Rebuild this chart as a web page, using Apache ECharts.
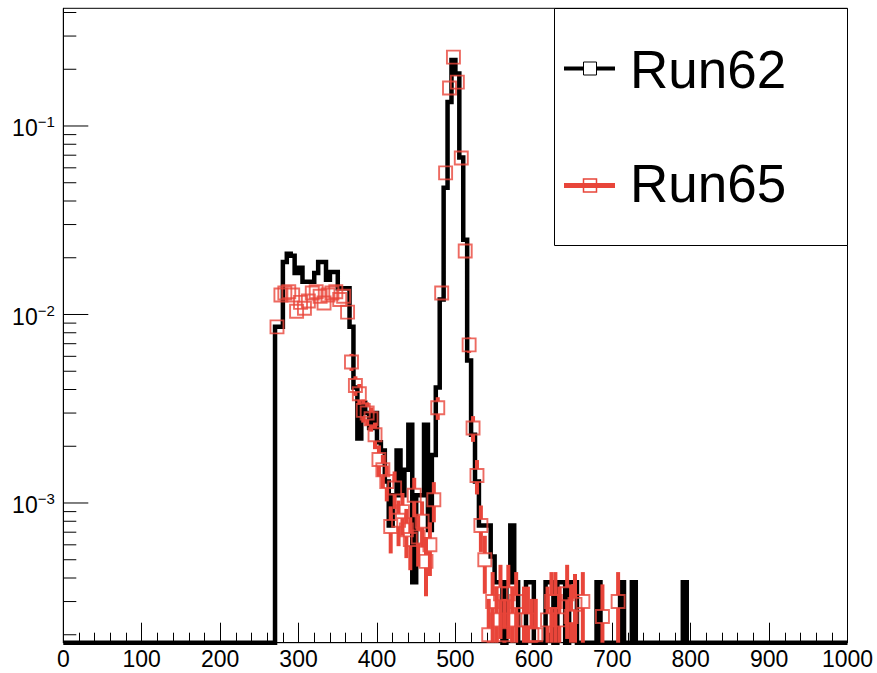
<!DOCTYPE html>
<html><head><meta charset="utf-8">
<script src="https://cdn.jsdelivr.net/npm/echarts@6/dist/echarts.min.js"></script>
<style>html,body{margin:0;padding:0;background:#fff}#c{width:877px;height:673px}</style>
</head><body><div id="c"></div>
<script>
// ---- data (bins of width 5 starting at 270; all other bins are empty) ----
const binLow = 270;
const binWidth = 5;
const xMin = 0, xMax = 1000, xInterval = 100;
const yMin = 1.815e-4, yMax = 0.4211;
const seriesNames = ['Run62', 'Run65'];

const run62 = [
  0.0086, 0.0086, 0.019, 0.021, 0.0205, 0.0166, 0.0177, 0.0149, 0.0149, 0.0149,
  0.0166, 0.019, 0.019, 0.0153, 0.0168, 0.0168, 0.0138, 0.0138, 0.0138, 0.0086,
  0.0041, 0.0022, 0.0034, 0.0030, 0.0025, 0.0030, 0.0021, 0.0019, 0.0013, 0.00076,
  0.0011, 0.0019, 0.0011, 0.0015, 0.0026, 0.00038, 0.0011, 0.0011, 0.0026, 0.00072,
  0.0018, 0.0041, 0.012, 0.047, 0.134, 0.224, 0.19, 0.068, 0.0249, 0.0057,
  0.0023, 0.0013, 0.00076, 0.00076, 0.00076, 0.00052, 0.00038, 0.00038, 0, 0.00038,
  0.00076, 0.00038, 0, 0, 0.00038, 0.00038, 0, 0, 0, 0.00038,
  0.00038, 0, 0.00038, 0.00038, 0, 0.00038, 0.00038, 0, 0, 0,
  0, 0, 0.00038, 0, 0, 0, 0, 0, 0.00038, 0,
  0, 0.00038, 0, 0, 0, 0, 0, 0, 0, 0,
  0, 0, 0, 0, 0.00038, 0
];

const run65 = [
  0.0086, 0.0127, 0.013, 0.0132, 0.0127, 0.0104, 0.0116, 0.0108, 0.0118, 0.013,
  0.0132, 0.0125, 0.0115, 0.0127, 0.013, 0.0132, 0.012, 0.0125, 0.0103, 0.0056,
  0.0042, 0.0038, 0.0031, 0.0030, 0.0028, 0.0023, 0.0017, 0.0015, 0.0013, 0.00075,
  0.0012, 0.00081, 0.0009, 0.00072, 0.00064, 0.0011, 0.00066, 0.0008, 0.00049, 0.0006,
  0.00104, 0.0032, 0.013, 0.0564, 0.159, 0.232, 0.171, 0.0677, 0.0217, 0.0069,
  0.0025, 0.0014, 0.00076, 0.0005, 0.0002, 0.0003, 0.00024, 0.00033, 0.0002, 0.00033,
  0.00024, 0.0003, 0, 0.00024, 0.00024, 0.0002, 0.0002, 0, 0, 0.00024,
  0.0003, 0.0003, 0.00024, 0, 0.00033, 0.00025, 0.00029, 0, 0.0003, 0,
  0, 0, 0, 0.00025, 0, 0, 0, 0.0003, 0, 0,
  0, 0, 0, 0, 0, 0, 0, 0, 0, 0,
  0, 0, 0, 0, 0, 0
];

const run65Err = [
  0.00072, 0.00087, 0.00088, 0.00089, 0.00087, 0.00079, 0.00083, 0.0008, 0.00084, 0.00088,
  0.00089, 0.00087, 0.00083, 0.00087, 0.00088, 0.00089, 0.00085, 0.00087, 0.00079, 0.00058,
  0.0005, 0.00048, 0.00043, 0.00042, 0.00041, 0.00037, 0.00032, 0.0003, 0.00028, 0.00021,
  0.00027, 0.00022, 0.00023, 0.00021, 0.0002, 0.00026, 0.0002, 0.00022, 0.00017, 0.00019,
  0.00025, 0.00044, 0.00088, 0.0018, 0.0031, 0.0037, 0.0032, 0.002, 0.0011, 0.00064,
  0.00039, 0.00029, 0.00021, 0.00017, 0.00011, 0.00013, 0.00012, 0.00014, 0.00011, 0.00014,
  0.00012, 0.00013, 0, 0.00012, 0.00012, 0.00011, 0.00011, 0, 0, 0.00012,
  0.00013, 0.00013, 0.00012, 0, 0.00014, 0.00012, 0.00013, 0, 0.00013, 0,
  0, 0, 0, 0.00012, 0, 0, 0, 0.00013, 0, 0,
  0, 0, 0, 0, 0, 0, 0, 0, 0, 0,
  0, 0, 0, 0, 0, 0
];

const yMajorTicks = [1e-3, 1e-2, 1e-1];
const yMinorTicks = [2e-4, 3e-4, 4e-4, 5e-4, 6e-4, 7e-4, 8e-4, 9e-4,
  2e-3, 3e-3, 4e-3, 5e-3, 6e-3, 7e-3, 8e-3, 9e-3,
  2e-2, 3e-2, 4e-2, 5e-2, 6e-2, 7e-2, 8e-2, 9e-2,
  2e-1, 3e-1, 4e-1];

// ---- styles ----
const RED = '#e8453a';
const FONT = '"Liberation Sans", Arial, Helvetica, sans-serif';

// ---- build series data ----
const stepData = [[xMin, yMin]];
run62.forEach((v, i) => {
  stepData.push([binLow + i * binWidth, v > yMin ? v : yMin]);
});
stepData.push([binLow + run62.length * binWidth, yMin]);
stepData.push([xMax, yMin]);

const redPts = [];
const redErr = [];
run65.forEach((v, i) => {
  const xc = binLow + (i + 0.5) * binWidth;
  if (v >= yMin) {
    redPts.push([xc, v]);
    redErr.push([xc, v, run65Err[i]]);
  }
});

const tickData = yMajorTicks.map(v => [xMin, v, 1]).concat(yMinorTicks.map(v => [xMin, v, 0]));

const chart = echarts.init(document.getElementById('c'), null, {renderer: 'svg'});
const MARK = 13;

chart.setOption({
  animation: false,
  backgroundColor: '#fff',
  textStyle: {fontFamily: FONT},
  grid: {left: 63.3, right: 29.5, top: 8.3, bottom: 30.3, show: true, borderColor: '#000', borderWidth: 1, backgroundColor: 'transparent'},
  xAxis: {
    type: 'value', min: xMin, max: xMax, interval: xInterval,
    axisLine: {show: true, lineStyle: {color: '#000', width: 1}},
    axisTick: {show: true, inside: true, length: 20, lineStyle: {color: '#000', width: 1}},
    minorTick: {show: true, splitNumber: 5, length: 10, lineStyle: {color: '#000', width: 1}},
    splitLine: {show: false},
    axisLabel: {color: '#000', fontSize: 23, margin: 5, fontFamily: FONT, formatter: v => String(v)}
  },
  yAxis: {
    type: 'log', logBase: 10, min: yMin, max: yMax,
    axisLine: {show: true, lineStyle: {color: '#000', width: 1}},
    axisTick: {show: false},
    minorTick: {show: false},
    splitLine: {show: false},
    axisLabel: {
      margin: 8.5,
      padding: [5, 0, 0, 0],
      formatter: function (v) {
        const e = Math.log10(v);
        const r = Math.round(e);
        if (Math.abs(e - r) > 1e-6) return '';
        return '{b|10}{s|' + (r < 0 ? '\u2212' : '') + Math.abs(r) + '}';
      },
      rich: {
        b: {fontSize: 23, lineHeight: 28, color: '#000', fontFamily: FONT, verticalAlign: 'middle'},
        s: {fontSize: 15, lineHeight: 15, color: '#000', fontFamily: FONT, verticalAlign: 'top'}
      }
    }
  },
  series: [
    {
      name: seriesNames[0], type: 'line', step: 'end', data: stepData,
      symbol: 'none', clip: false, z: 2,
      lineStyle: {color: '#000', width: 4.5, join: 'miter'}
    },
    {
      name: seriesNames[1] + ' errors', type: 'custom', z: 3, data: redErr,
      encode: {x: 0, y: 1},
      renderItem: function (params, api) {
        const x = api.value(0), v = api.value(1), e = api.value(2);
        const c = api.coord([x, v]);
        const hiV = Math.min(v + e, yMax);
        const hi = api.coord([x, hiV]);
        const lo = api.coord([x, Math.max(v - e, yMin)]);
        const h = MARK / 2;
        const children = [];
        if (hi[1] < c[1] - h) children.push({type: 'line', shape: {x1: c[0], y1: hi[1], x2: c[0], y2: c[1] - h}, style: {stroke: RED, lineWidth: 4}});
        if (lo[1] > c[1] + h) children.push({type: 'line', shape: {x1: c[0], y1: c[1] + h, x2: c[0], y2: lo[1]}, style: {stroke: RED, lineWidth: 4}});
        return {type: 'group', children: children};
      }
    },
    {
      name: seriesNames[1], type: 'scatter', data: redPts, z: 4,
      symbol: 'rect', symbolSize: MARK,
      itemStyle: {color: 'rgba(0,0,0,0)', borderColor: RED, borderWidth: 1.9}
    },
    {
      name: 'yticks', type: 'custom', z: 5, data: tickData,
      encode: {x: 0, y: 1},
      renderItem: function (params, api) {
        const p = api.coord([api.value(0), api.value(1)]);
        const len = api.value(2) ? 25 : 13;
        return {type: 'line', shape: {x1: p[0], y1: p[1], x2: p[0] + len, y2: p[1]}, style: {stroke: '#000', lineWidth: 1}};
      }
    }
  ],
  graphic: [
    {type: 'rect', z: 100, shape: {x: 554.5, y: 8.5, width: 293, height: 237}, style: {fill: '#fff', stroke: '#000', lineWidth: 1}},
    {type: 'line', z: 101, shape: {x1: 564, y1: 68.5, x2: 615, y2: 68.5}, style: {stroke: '#000', lineWidth: 4}},
    {type: 'rect', z: 102, shape: {x: 583.5, y: 62, width: 13, height: 13}, style: {fill: '#fff', stroke: '#000', lineWidth: 1}},
    {type: 'text', z: 102, x: 630, y: 69, style: {text: seriesNames[0], font: '53px ' + FONT, fill: '#000', verticalAlign: 'middle', align: 'left'}},
    {type: 'line', z: 101, shape: {x1: 564, y1: 185.5, x2: 615, y2: 185.5}, style: {stroke: RED, lineWidth: 5}},
    {type: 'rect', z: 102, shape: {x: 583.5, y: 179, width: 13, height: 13}, style: {fill: 'rgba(0,0,0,0)', stroke: RED, lineWidth: 1.5}},
    {type: 'text', z: 102, x: 630, y: 183, style: {text: seriesNames[1], font: '53px ' + FONT, fill: '#000', verticalAlign: 'middle', align: 'left'}}
  ]
});
</script>
</body></html>
